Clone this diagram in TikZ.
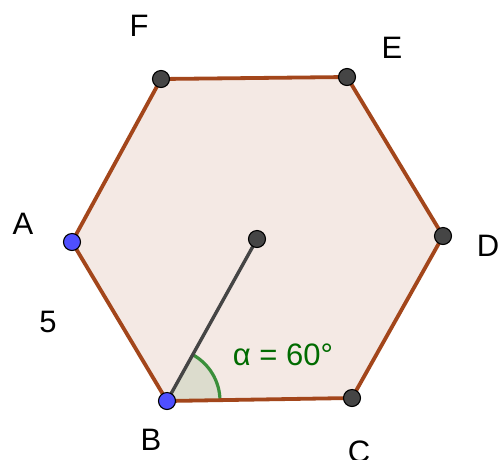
\documentclass[tikz,border=0pt]{standalone}
\usepackage{fontspec}
\setmainfont{Liberation Sans}
\definecolor{hexfill}{HTML}{F4E9E4}
\definecolor{hexline}{HTML}{A3461B}
\definecolor{ptgray}{HTML}{454545}
\definecolor{ptblue}{HTML}{4F4FFF}
\definecolor{anggreen}{HTML}{3A8F3A}
\definecolor{angfill}{HTML}{DCDCCD}
\definecolor{txtgreen}{HTML}{006B00}
\tikzset{
  pt/.style={circle,draw=black,line width=1.1pt,inner sep=0pt,minimum size=17pt},
  grey/.style={pt,fill=ptgray},
  blue/.style={pt,fill=ptblue},
  lab/.style={font=\fontsize{31}{34}\selectfont,text=black,inner sep=0pt}
}
\begin{document}
\begin{tikzpicture}[x=1pt,y=-1pt]
\useasboundingbox (0,0) rectangle (503,459);
\coordinate (a) at (72,242);
\coordinate (b) at (167,401);
\coordinate (c) at (352,398);
\coordinate (d) at (443,236);
\coordinate (e) at (347,77);
\coordinate (f) at (161,79);
\coordinate (o) at (257,239);
\fill[hexfill] (a)--(b)--(c)--(d)--(e)--(f)--cycle;
\fill[angfill] (b) -- ++(-0.9:53) arc[start angle=-0.9,end angle=-60.9,radius=53] -- cycle;
\draw[anggreen,line width=3.2pt] (b) ++(-0.9:53) arc[start angle=-0.9,end angle=-60.9,radius=53];
\draw[hexline,line width=3.8pt,line join=round] (a)--(b)--(c)--(d)--(e)--(f)--cycle;
\draw[ptgray,line width=3.4pt] (b)--(o);
\node[grey] (no) at (o) {};
\node[grey] (nc) at (c) {};
\node[grey] (nd) at (d) {};
\node[grey] (ne) at (e) {};
\node[grey] (nf) at (f) {};
\node[blue] (na) at (a) {};
\node[blue] (nb) at (b) {};
\node[lab] (lf) at (139,26) {F};
\node[lab] (le) at (392,48) {E};
\node[lab] (la) at (23,224) {A};
\node[lab] (ld) at (488,246) {D};
\node[lab] (lb) at (151,440) {B};
\node[lab] (lc) at (359,452) {C};
\node[lab] (l5) at (48,322) {5};
\node[font=\fontsize{31}{34}\selectfont,text=txtgreen,inner sep=0pt] (lalpha) at (283,355) {α = 60°};
\end{tikzpicture}
\end{document}
